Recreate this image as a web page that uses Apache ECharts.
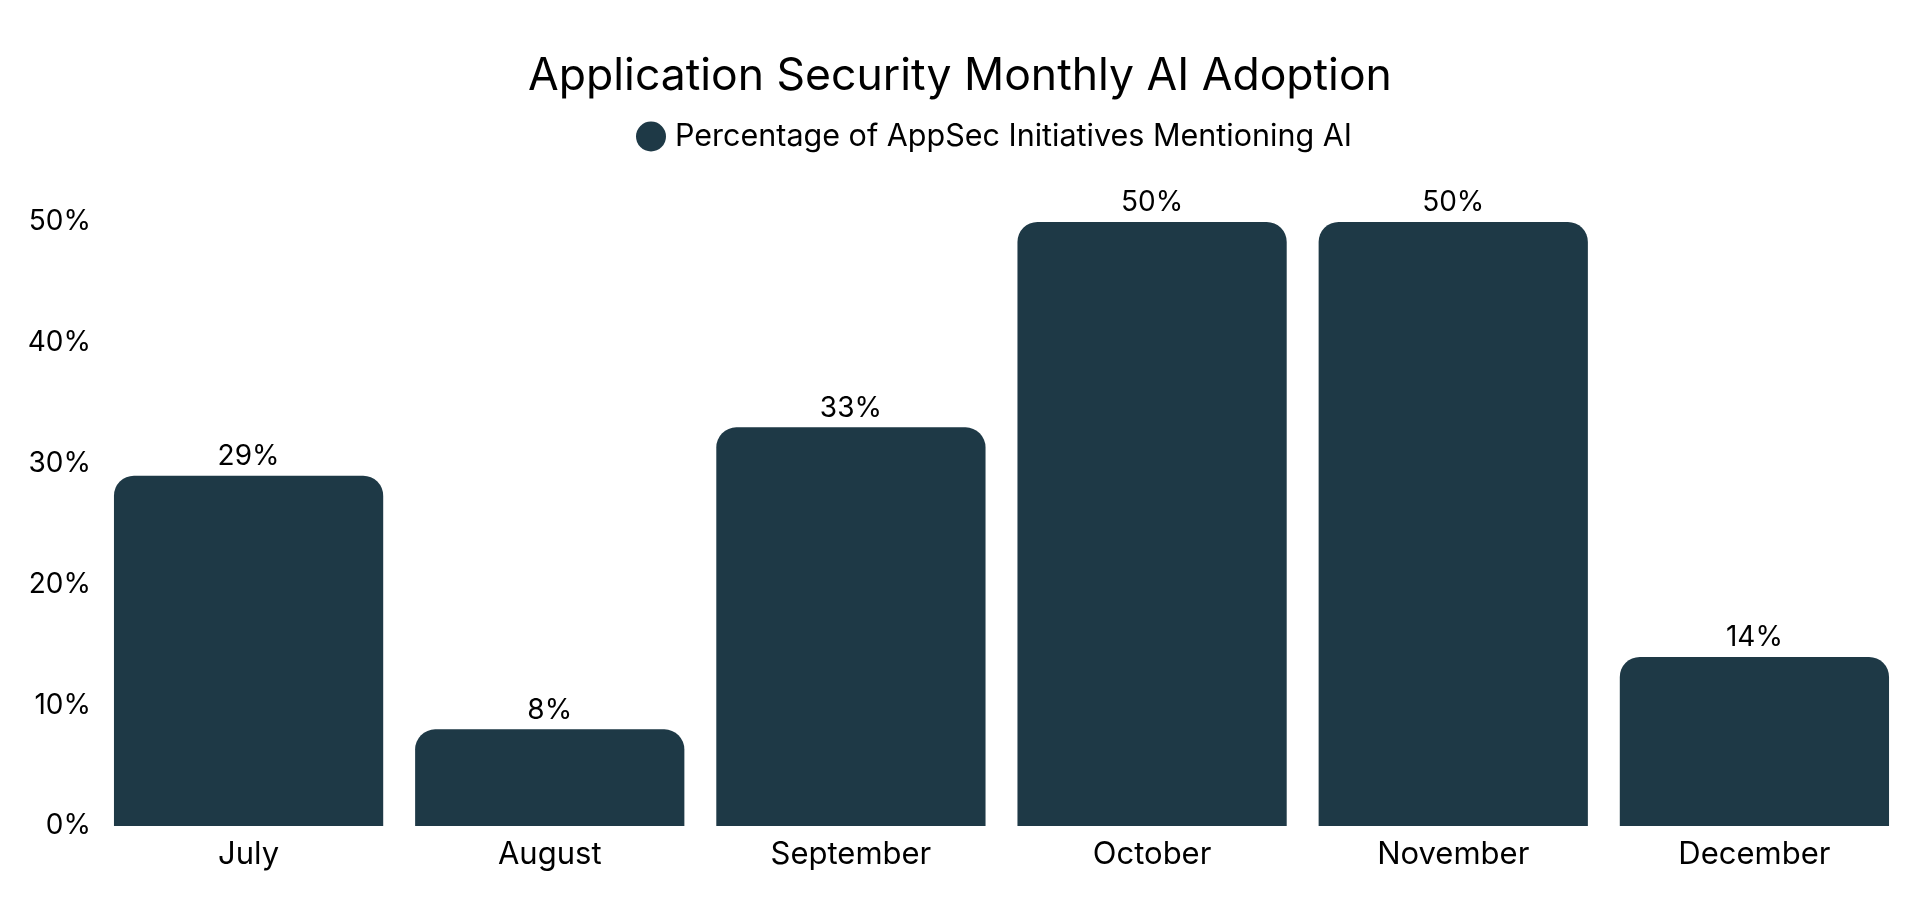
<!DOCTYPE html>
<html>
<head>
<meta charset="utf-8">
<script src="https://cdn.jsdelivr.net/npm/echarts@6/dist/echarts.min.js"></script>
<style>
html,body{margin:0;padding:0;background:#fff;}
#chart{width:1920px;height:924px;}
</style>
</head>
<body>
<div id="chart"></div>
<script>
const categories = ["July", "August", "September", "October", "November", "December"];
const values = [29, 8, 33, 50, 50, 14];
const seriesName = "Percentage of AppSec Initiatives Mentioning AI";
const titleText = "Application Security Monthly AI Adoption";

const chart = echarts.init(document.getElementById('chart'));
const FONT = 'Inter';
chart.setOption({
  backgroundColor: '#ffffff',
  animation: false,
  title: {
    text: titleText,
    left: 'center',
    top: 49,
    textStyle: { fontFamily: FONT, fontSize: 44.5, fontWeight: 'normal', color: '#000000' }
  },
  legend: {
    top: 116,
    left: 631,
    icon: 'circle',
    itemWidth: 30,
    itemHeight: 30,
    itemGap: 10,
    textStyle: { fontFamily: FONT, fontSize: 30.5, color: '#000000', padding: [0, 0, 0, 4] },
    data: [seriesName]
  },
  grid: { left: 98, right: 15, top: 222, bottom: 98, containLabel: false },
  xAxis: {
    type: 'category',
    data: categories,
    axisLine: { show: false },
    axisTick: { show: false },
    axisLabel: { fontFamily: FONT, fontSize: 31, color: '#000000', margin: 13 }
  },
  yAxis: {
    type: 'value',
    min: 0,
    max: 50,
    interval: 10,
    splitLine: { show: false },
    axisLine: { show: false },
    axisTick: { show: false },
    axisLabel: { fontFamily: FONT, fontSize: 28, color: '#000000', margin: 7, formatter: '{value}%' }
  },
  series: [{
    name: seriesName,
    type: 'bar',
    data: values,
    barCategoryGap: '10.6%',
    itemStyle: { color: '#1e3946', borderRadius: [20, 20, 0, 0] },
    label: {
      show: true,
      position: 'top',
      distance: 5,
      formatter: '{c}%',
      fontFamily: FONT,
      fontSize: 28,
      color: '#000000'
    }
  }]
});
</script>
</body>
</html>
